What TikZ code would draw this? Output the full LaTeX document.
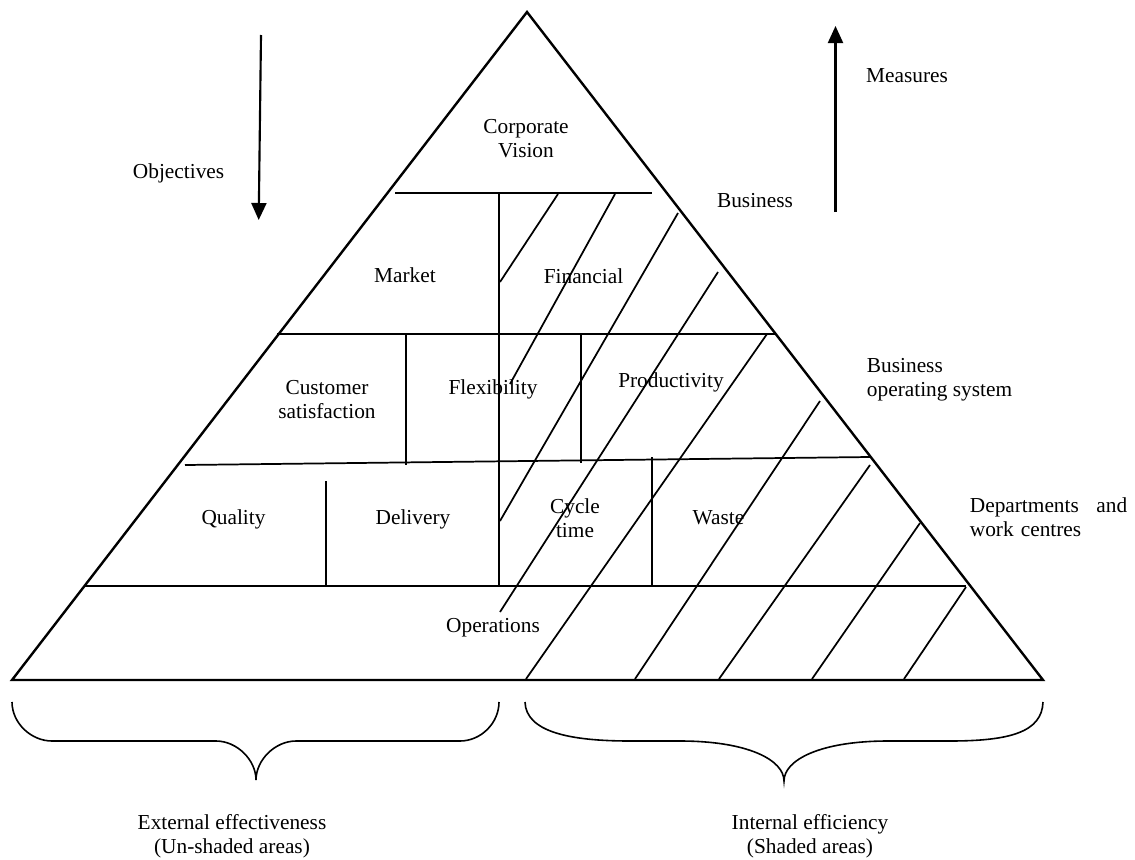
\documentclass[tikz,border=0pt]{standalone}
\usepackage{fontspec}
\setmainfont{Liberation Serif}
\usetikzlibrary{arrows.meta}
\begin{document}
\begin{tikzpicture}[x=0.75pt,y=-0.75pt,
  lbl/.style={font=\fontsize{16}{18}\selectfont, inner sep=0pt, align=center},
  lblL/.style={font=\fontsize{16}{18}\selectfont, inner sep=0pt, align=left},
  edge/.style={line width=1.8pt, line join=miter},
  spine/.style={line width=1.8pt},
  divider/.style={line width=1.3pt},
  hatch/.style={line width=1.3pt},
  brace/.style={line width=1.2pt},
  flow/.style={line width=1.6pt, -{Triangle[length=12.75pt,width=11.25pt]}}
]
\useasboundingbox (0,0) rectangle (1135,860);

% pyramid outline
\coordinate (apex) at (527,12);
\coordinate (bl) at (12,680);
\coordinate (br) at (1043,680);
\draw[edge] (apex) -- (br) -- (bl) -- cycle;

% level boundaries
\coordinate (h1a) at (395,193);  \coordinate (h1b) at (652,193);
\coordinate (h2a) at (277,334);  \coordinate (h2b) at (776,334);
\coordinate (h3a) at (185,465);  \coordinate (h3b) at (870,457);
\coordinate (h4a) at (85,586);   \coordinate (h4b) at (966,586);
\draw[divider] (h1a) -- (h1b);
\draw[divider] (h2a) -- (h2b);
\draw[divider] (h3a) -- (h3b);
\draw[divider] (h4a) -- (h4b);

% central split between external and internal measures
\coordinate (s1) at (499,193); \coordinate (s2) at (499,586);
\draw[spine] (s1) -- (s2);

% cell separators
\coordinate (v1a) at (405.7,334); \coordinate (v1b) at (405.7,465);
\coordinate (v2a) at (581,334);   \coordinate (v2b) at (581,463);
\coordinate (v3a) at (326,481);   \coordinate (v3b) at (326,586);
\coordinate (v4a) at (652,457);   \coordinate (v4b) at (652,586);
\draw[divider] (v1a) -- (v1b);
\draw[divider] (v2a) -- (v2b);
\draw[divider] (v3a) -- (v3b);
\draw[divider] (v4a) -- (v4b);

% shading of the internal side
\foreach \xa/\ya/\xb/\yb [count=\i] in {
  558/194/500/282,
  615/194/510/384,
  678/213/500/521,
  718/272/500/612,
  767/334/526/679,
  820/401/635/679,
  870/465/719/679,
  920/523/812/679,
  966/587/904/679}{
  \coordinate (ht\i) at (\xa,\ya);
  \coordinate (hb\i) at (\xb,\yb);
  \draw[hatch] (ht\i) -- (hb\i);
}

% direction arrows
\coordinate (objTop) at (261,35);   \coordinate (objTip) at (258.7,220);
\coordinate (meaBase) at (835.5,212); \coordinate (meaTip) at (835.5,26);
\draw[flow] (objTop) -- (objTip);
\draw[flow] (meaBase) -- (meaTip);

% braces under the pyramid
\draw[brace] (12,702) .. controls (12,723) and (31,741) .. (52,741)
  -- (216,741) .. controls (237,741) and (256,760) .. (256,780)
  .. controls (256,760) and (275,741) .. (296,741)
  -- (460,741) .. controls (481,741) and (499,723) .. (499,702);
\draw[brace] (525,702) .. controls (526,732) and (570,741) .. (630,741)
  -- (680,741) .. controls (748,741) and (784,760) .. (784,781)
  .. controls (784,760) and (820,741) .. (888,741)
  -- (950,741) .. controls (1010,741) and (1042,732) .. (1043,702);

% labels
\node[lbl] (vision) at (526,139) {Corporate\\Vision};
\node[lbl, anchor=base] (objectives) at (178.6,178.5) {Objectives};
\node[lbl, anchor=base] (measures) at (907,82.6) {Measures};
\node[lbl, anchor=base] (business) at (755,207) {Business};
\node[lbl, anchor=base] (market) at (405,282) {Market};
\node[lbl, anchor=base] (financial) at (583.5,283) {Financial};
\node[lblL, anchor=west] (bos) at (866.7,380) {Business\\operating system};
\node[lbl] (custsat) at (327,399.5) {Customer\\satisfaction};
\node[lbl, anchor=base] (flex) at (493,394) {Flexibility};
\node[lbl, anchor=base] (prod) at (671,387) {Productivity};
\node[lbl, anchor=base] (quality) at (233.5,524) {Quality};
\node[lbl, anchor=base] (delivery) at (413,524) {Delivery};
\node[lbl] (cycle) at (575,518.5) {Cycle\\time};
\node[lbl, anchor=base] (waste) at (718.5,524) {Waste};
\node[lblL, anchor=west, text width=118pt] (depts) at (969.6,517) {Departments\hfill and\\work centres};
\node[lbl, anchor=base] (ops) at (493,632) {Operations};
\node[lbl] (external) at (232,836) {External effectiveness\\(Un-shaded areas)};
\node[lbl] (internal) at (810,836) {Internal efficiency\\(Shaded areas)};
\end{tikzpicture}
\end{document}
